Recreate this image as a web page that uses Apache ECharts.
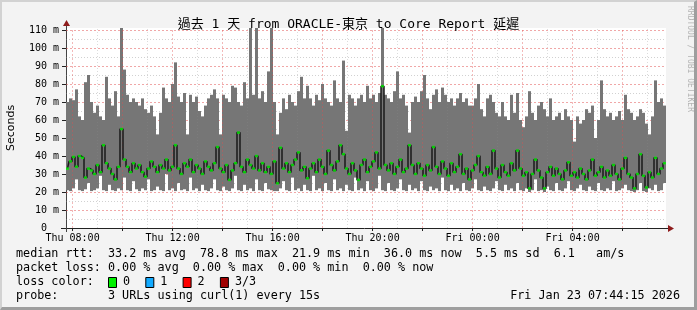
<!DOCTYPE html>
<html><head><meta charset="utf-8">
<script src="https://cdn.jsdelivr.net/npm/echarts@6/dist/echarts.min.js"></script>
<style>
html,body{margin:0;padding:0;background:#f3f3f3;}
#wrap{position:relative;width:697px;height:310px;overflow:hidden;}
#chart{position:absolute;left:0;top:0;width:697px;height:310px;}
#frame{position:absolute;left:0;top:0;width:697px;height:310px;box-sizing:border-box;border-style:solid;border-width:2px 3px 3px 2px;border-color:#d2d2d2 #9e9e9e #9e9e9e #d2d2d2;pointer-events:none;}
</style></head><body>
<div id="wrap"><div id="chart"></div><div id="frame"></div></div>
<script>
const chartTitle = '過去 1 天 from ORACLE-東京 to Core Report 延遲';
const startMinute = 464.25;   // Thu 07:44:15, minutes after Thu 00:00
const spanMinutes = 1440;
const stepMinutes = 7.2;      // one sample column

// smoke bottom (fastest ping), ms
const rttMin = [
 21,20.5,22,27,21,20.5,21.5,25,20.5,21,
 22,29,21,20.5,24,21,20.5,22,21,28,
 21,20.5,26,21.5,20.5,22,21,27,20.5,21,
 23,21,20.5,30,21,22,20.5,25,21,21.5,
 20.5,28,21,22,20.5,24,21,20.5,22,27,
 21,20.5,23,21,20.5,22,29,21,20.5,24,
 21,22,20.5,27,21,20.5,25,21.5,21,20.5,
 20.5,22,26,21,20.5,28,21,22,20.5,24,
 21,20.5,29,21,22,20.5,25,21,20.5,27,
 21,22,20.5,24,21,20.5,28,21,22,20.5,
 26,21,20.5,22,29,21,20.5,25,21,20.5,
 22,27,21,20.5,24,21,22,20.5,26,21,
 20.5,23,21,22,20.5,28,21,20.5,24,21,
 22,20.5,25,21,20.5,22,27,21,20.5,23,
 21,20.5,22,26,21,20.5,24,21,22,20.5,
 25,21,20.5,22,20,21,27,20.5,21,20,
 23,21,20.5,25,21,20.5,22,26,21,20.5,
 22,24,21,20.5,23,21,20.5,25,21,20.5,
 22,21,26,20.5,21,22,24,21,20.5,20,
 21,25,20.5,20,22,21,24,20.5,21,25
];
// smoke top (slowest ping), ms
const rttMax = [
 70,72,71,77,62,60,81,85,70,64,
 68,62,60,84,72,68,76,62,115,88,
 74,70,72,70,68,72,66,64,68,62,
 52,64,78,72,70,80,92,73,70,75,
 52,74,70,73,65,62,68,72,74,77,
 72,52,74,72,70,79,78,70,68,81,
 72,115,74,115,72,76,70,87,115,70,
 52,64,72,66,74,70,68,76,84,72,
 79,72,68,74,71,80,72,70,68,82,
 72,70,93,54,74,72,68,72,74,70,
 79,72,74,70,75,115,74,72,70,76,
 87,72,74,68,53,70,73,70,76,85,
 72,66,74,77,70,78,74,70,72,68,
 72,75,70,72,68,68,72,80,66,62,
 72,74,70,64,62,70,62,60,74,64,
 75,60,56,62,76,64,60,68,70,66,
 62,72,60,62,64,60,66,62,60,48,
 62,58,60,66,64,68,50,60,82,66,
 62,64,60,62,65,60,74,66,64,60,
 62,66,64,58,52,62,82,70,72,68
];
// median rtt, ms
const rttMedian = [
 33,37,39.5,34,40,39,28,33,32,30,
 35,31,46,36,33,30,27,34,55,38,
 34,31,36,33,35,31,28.5,33,37,34,
 31,35,33,38,32,34,46,33,30,36,
 34,38,31,35,33,30,37,34,32,36,
 45,33,31,35,26.7,32,36,53,34,31,
 38,35,33,40,32,36,31,34,30,37,
 24.8,44.6,33,36,31,35,38,42,32,34,
 27.6,33,36,31,38,34,30,43,35,32,
 37,46,41,33,30,36,32,26.7,35,38,
 31,34,37,42,33,78.8,35,32,36,30,
 34,38,31,33,46,35,30,36,33,29,
 35,32,45,34,30,37,33,29,36,31,
 34,41,30,33,27,32,35,40,31,29,
 34,30,43,33,28,35,31,29,36,32,
 43,33,29,31,22,30,38,32,28,22,
 31,34,29,33,30,27,32,36.5,29,31,
 28,33,30,27,32,38,29,31,34,28,
 32,29,35,30,27,33,39,30,28,22,
 30,41,29,22.5,31,28,39,30,33,36
];

const xTickValues = [480, 720, 960, 1200, 1440, 1680];
const xTickLabels = ['Thu 08:00', 'Thu 12:00', 'Thu 16:00', 'Thu 20:00', 'Fri 00:00', 'Fri 04:00'];
const xMajorGrid = [480, 600, 720, 840, 960, 1080, 1200, 1320, 1440, 1560, 1680, 1800];
const xMinorGrid = [540, 660, 780, 900, 1020, 1140, 1260, 1380, 1500, 1620, 1740, 1860];
const yTickValues = [0, 10, 20, 30, 40, 50, 60, 70, 80, 90, 100, 110];
const yMinorGrid = [5, 15, 25, 35, 45, 55, 65, 75, 85, 95, 105];

const statLine1 = 'median rtt:  33.2 ms avg  78.8 ms max  21.9 ms min  36.0 ms now  5.5 ms sd  6.1   am/s';
const statLine2 = 'packet loss: 0.00 % avg  0.00 % max  0.00 % min  0.00 % now';
const lossLabel = 'loss color:';
const lossNames = ['0', '1', '2', '3/3'];
const lossColors = ['#00f000', '#12aaff', '#ff0000', '#a00000'];
const probeLine = 'probe:       3 URLs using curl(1) every 15s';
const stampText = 'Fri Jan 23 07:44:15 2026';
const sideText = 'RRDTOOL / TOBI OETIKER';

const xAt = i => startMinute + (i + 0.5) * stepMinutes;
const smokeData = rttMin.map((v, i) => [xAt(i), v, rttMax[i]]);
const medianData = rttMedian.map((v, i) => [xAt(i), v]);

const MONO = '"DejaVu Sans Mono", "Liberation Mono", monospace';
const legendFont = '11.75px ' + MONO;

const RED = 'rgba(226,80,80,0.5)';
const GRAY = 'rgba(140,140,140,0.4)';
const vLines = [], hLines = [];
xMajorGrid.forEach(v => vLines.push({xAxis: v, lineStyle: {color: 'rgba(226,80,80,0.4)', type: [2, 2], width: 1}}));
xMinorGrid.forEach(v => vLines.push({xAxis: v, lineStyle: {color: 'rgba(140,140,140,0.3)', type: [1, 2], width: 1}}));
yTickValues.filter(v => v > 0).forEach(v => hLines.push({yAxis: v, lineStyle: {color: RED, type: [2, 2], width: 1}}));
yMinorGrid.forEach(v => hLines.push({yAxis: v, lineStyle: {color: GRAY, type: [1, 2], width: 1}}));

const graphics = [];
[statLine1, statLine2, lossLabel, probeLine].forEach((t, k) => {
  graphics.push({type: 'text', x: 16, y: 254 + k * 14, silent: true,
    style: {text: t, font: legendFont, fill: '#000', verticalAlign: 'middle', align: 'left'}});
});
graphics.push({type: 'text', x: 680, y: 296, silent: true,
  style: {text: stampText, font: legendFont, fill: '#000', verticalAlign: 'middle', align: 'right'}});
lossNames.forEach((n, k) => {
  const bx = 108 + k * 37.3;
  graphics.push({type: 'rect', silent: true, shape: {x: bx + 0.5, y: 277.5, width: 8, height: 10},
    style: {fill: lossColors[k], stroke: '#000', lineWidth: 1}});
  graphics.push({type: 'text', x: bx + 15, y: 282, silent: true,
    style: {text: n, font: legendFont, fill: '#000', verticalAlign: 'middle', align: 'left'}});
});
graphics.push({type: 'text', x: 690, y: 59, rotation: -Math.PI / 2, silent: true,
  style: {text: sideText, font: '8px ' + MONO, fill: '#b4b4b4', align: 'center', verticalAlign: 'middle'}});
// axis lines and arrows
graphics.push({type: 'line', silent: true, shape: {x1: 61, y1: 228.5, x2: 668, y2: 228.5}, style: {stroke: '#222', lineWidth: 1}});
graphics.push({type: 'polygon', silent: true, shape: {points: [[668, 225], [674, 228.5], [668, 232]]}, style: {fill: '#8e1c1c'}});
graphics.push({type: 'line', silent: true, shape: {x1: 66.5, y1: 24, x2: 66.5, y2: 232}, style: {stroke: '#444', lineWidth: 1}});
graphics.push({type: 'polygon', silent: true, shape: {points: [[63, 26], [66.5, 20], [70, 26]]}, style: {fill: '#8e1c1c'}});

const chart = echarts.init(document.getElementById('chart'), null, {renderer: 'canvas'});
chart.setOption({
  animation: false,
  backgroundColor: 'transparent',
  title: {text: chartTitle, left: 'center', top: 13,
    textStyle: {fontFamily: MONO + ', "Noto Sans CJK TC"', fontSize: 13, fontWeight: 'normal', color: '#000'}},
  grid: {left: 66, top: 28, width: 600, height: 200, show: true, backgroundColor: '#fff', borderWidth: 0, outerBoundsMode: 'none'},
  xAxis: {
    type: 'value', min: startMinute, max: startMinute + spanMinutes,
    splitLine: {show: false},
    axisLine: {show: false},
    axisTick: {show: true, customValues: xMajorGrid, length: 3, lineStyle: {color: '#222'}},
    axisLabel: {customValues: xTickValues, margin: 5, fontFamily: MONO, fontSize: 10, color: '#000',
      formatter: v => xTickLabels[xTickValues.indexOf(v)] || ''}
  },
  yAxis: {
    type: 'value', min: 0, max: 111.1,
    name: 'Seconds', nameLocation: 'middle', nameGap: 49, nameRotate: 90,
    nameTextStyle: {fontFamily: '"DejaVu Sans", sans-serif', fontSize: 11, color: '#000'},
    splitLine: {show: false},
    axisLine: {show: false},
    axisTick: {show: true, customValues: yTickValues, length: 4, lineStyle: {color: '#222'}},
    axisLabel: {customValues: yTickValues, margin: 7, fontFamily: MONO, fontSize: 10, color: '#000',
      formatter: v => v === 0 ? '0  ' : v + ' m'}
  },
  graphic: graphics,
  series: [
    {
      type: 'custom', name: 'smoke', data: smokeData, z: 2, clip: true,
      encode: {x: 0, y: [1, 2]},
      renderItem: (params, api) => {
        const x = api.value(0);
        const p1 = api.coord([x - stepMinutes / 2, api.value(2)]);
        const p2 = api.coord([x + stepMinutes / 2, api.value(1)]);
        const top = Math.max(p1[1], params.coordSys.y);
        return {type: 'rect', shape: {x: p1[0], y: top, width: p2[0] - p1[0], height: p2[1] - top},
          style: {fill: '#767676'}};
      },
      markLine: {silent: true, symbol: 'none', label: {show: false}, z: 5, data: vLines}
    },
    {
      type: 'line', name: 'median', data: medianData, step: 'middle', showSymbol: false, z: 6,
      lineStyle: {color: '#1a1a1a', width: 1.5}
    },
    {
      type: 'scatter', name: 'median dots', data: medianData, symbol: 'rect', symbolSize: [3, 2.5], z: 7,
      itemStyle: {color: '#00f000'},
      markLine: {silent: true, symbol: 'none', label: {show: false}, z: 1, data: hLines}
    }
  ]
});
</script>
</body></html>
